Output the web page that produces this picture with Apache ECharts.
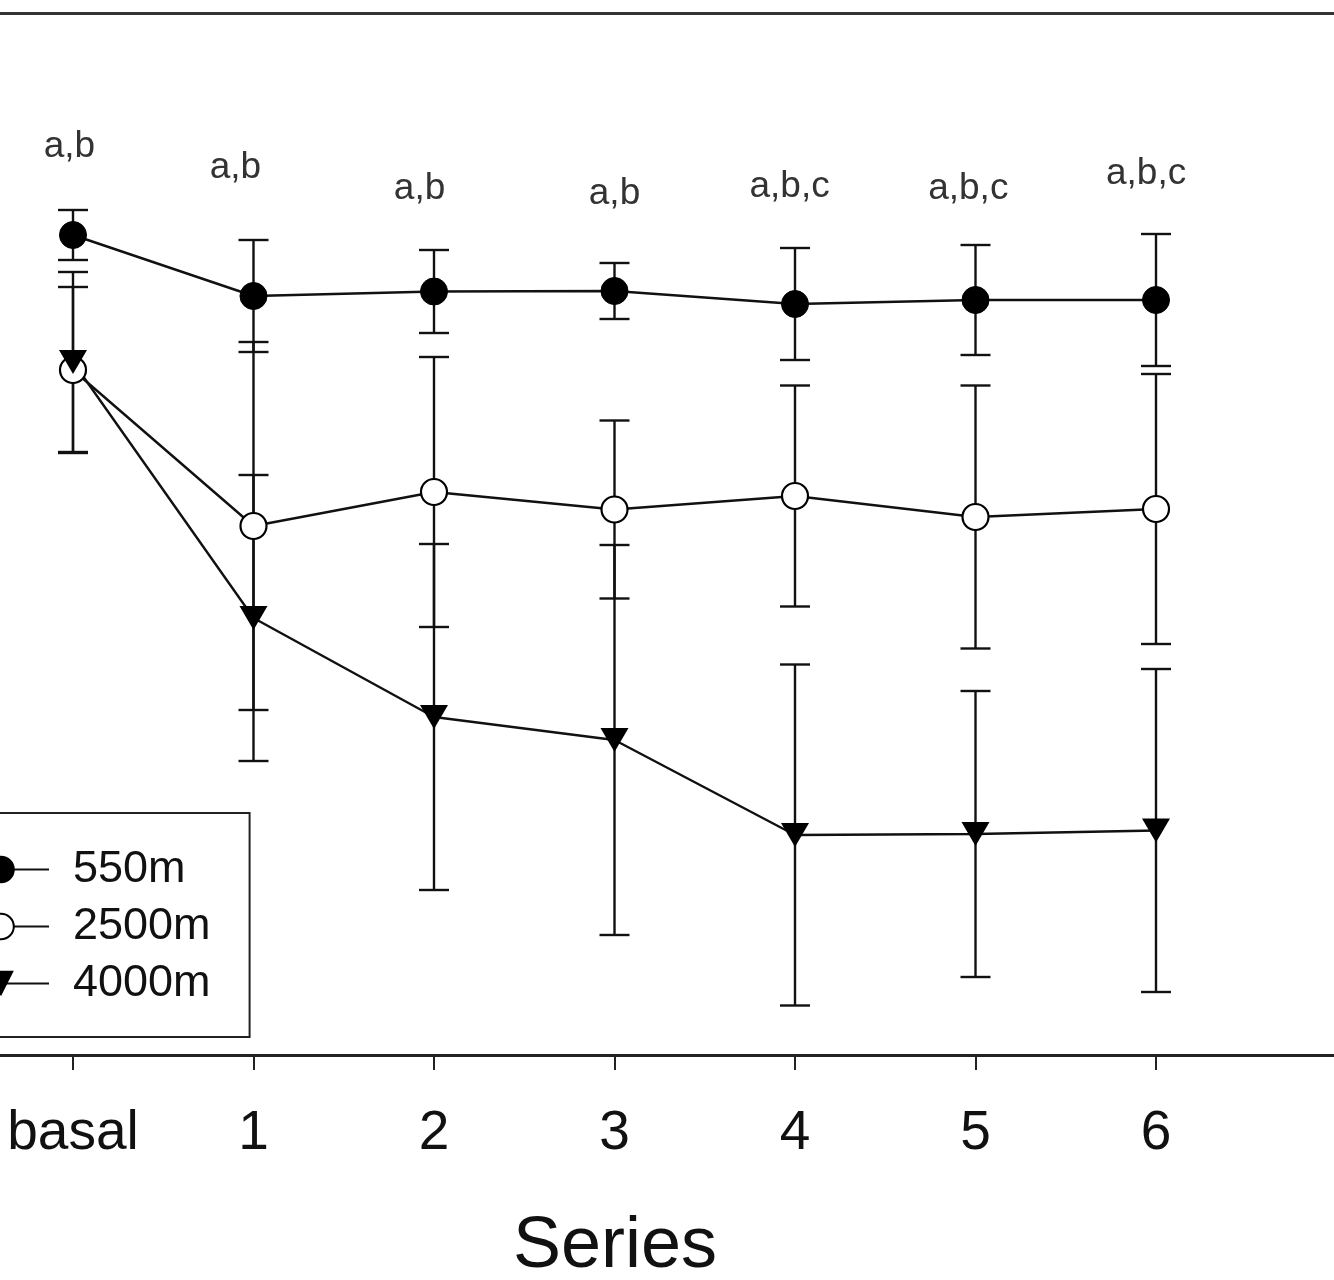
<!DOCTYPE html>
<html>
<head>
<meta charset="utf-8">
<title>Series by altitude</title>
<script src="https://cdn.jsdelivr.net/npm/echarts@6/dist/echarts.min.js"></script>
<style>
  html, body { margin: 0; padding: 0; background: #ffffff; }
  #chart { width: 1334px; height: 1280px; }
</style>
</head>
<body>
<div id="chart"></div>
<script>
// Measurement points along the x axis
const categories = ['basal', '1', '2', '3', '4', '5', '6'];
const altitudes = ['550m', '2500m', '4000m'];

// Group means and standard deviations (axis units)
const mean550  = [82.0, 75.9, 76.35, 76.4, 75.1, 75.5, 75.5];
const sd550    = [2.5, 5.6, 4.15, 2.8, 5.6, 5.5, 6.6];
const mean2500 = [68.5, 52.9, 56.3, 54.55, 55.9, 53.8, 54.6];
const sd2500   = [8.3, 18.4, 13.5, 8.9, 11.05, 13.15, 13.5];
const mean4000 = [69.3, 43.7, 33.8, 31.5, 22.0, 22.1, 22.45];
const sd4000   = [9.0, 14.3, 17.3, 19.5, 17.05, 14.3, 16.15];

// Significance letters and where each one sits (axis units)
const letters = ['a,b', 'a,b', 'a,b', 'a,b', 'a,b,c', 'a,b,c', 'a,b,c'];
const letterX = [-0.02, 0.90, 1.92, 3.0, 3.97, 4.96, 5.945];
const letterY = [90.8, 88.7, 86.6, 86.1, 86.8, 86.6, 88.1];

// Visible x window: the plot frame continues past both edges of the view
const X_MIN = -0.4044;
const X_MAX = 6.9861;
const tickValues = categories.map((c, i) => i);

const FONT = '"Liberation Sans", Arial, Helvetica, sans-serif';
const INK = '#111111';

function pairs(values) {
  return values.map((v, i) => [i, v]);
}

// Vertical error bar with caps at mean ± sd
function errorBars(id, means, sds) {
  return {
    type: 'custom',
    id: id,
    silent: true,
    z: 1,
    data: means.map((m, i) => [i, m - sds[i], m + sds[i]]),
    encode: { x: 0, y: [1, 2] },
    renderItem: function (params, api) {
      const x = api.value(0);
      const lo = api.coord([x, api.value(1)]);
      const hi = api.coord([x, api.value(2)]);
      const half = 15;
      const style = { stroke: INK, lineWidth: 2.4 };
      return {
        type: 'group',
        children: [
          { type: 'line', shape: { x1: lo[0], y1: lo[1], x2: hi[0], y2: hi[1] }, style: style },
          { type: 'line', shape: { x1: lo[0] - half, y1: lo[1], x2: lo[0] + half, y2: lo[1] }, style: style },
          { type: 'line', shape: { x1: hi[0] - half, y1: hi[1], x2: hi[0] + half, y2: hi[1] }, style: style }
        ]
      };
    }
  };
}

const chart = echarts.init(document.getElementById('chart'), null, { renderer: 'canvas' });

chart.setOption({
  animation: false,
  backgroundColor: '#ffffff',
  grid: {
    left: 0,
    right: 0,
    top: 13,
    bottom: 225,
    show: false,
    outerBoundsMode: 'none',
    containLabel: false
  },
  xAxis: [
    {
      type: 'value',
      min: X_MIN,
      max: X_MAX,
      position: 'bottom',
      name: 'Series',
      nameLocation: 'middle',
      nameGap: 156,
      nameTextStyle: {
        fontSize: 72, color: INK, fontFamily: FONT,
        // shift the title so it centres under the 0..6 span
        padding: [0, 104, 0, 0]
      },
      axisLine: { show: true, onZero: false, lineStyle: { color: '#222222', width: 3 } },
      axisTick: { show: true, length: 15, customValues: tickValues, lineStyle: { color: '#222222', width: 2 } },
      axisLabel: {
        margin: 51,
        fontSize: 55,
        color: INK,
        fontFamily: FONT,
        customValues: tickValues,
        formatter: function (v) {
          const i = Math.round(v);
          return (i >= 0 && i < categories.length) ? categories[i] : '';
        }
      },
      splitLine: { show: false }
    },
    {
      type: 'value',
      min: X_MIN,
      max: X_MAX,
      position: 'top',
      axisLine: { show: true, onZero: false, lineStyle: { color: '#333333', width: 3 } },
      axisTick: { show: false },
      axisLabel: { show: false },
      splitLine: { show: false }
    }
  ],
  yAxis: {
    type: 'value',
    min: 0,
    max: 104.2,
    show: false,
    splitLine: { show: false }
  },
  legend: {
    data: altitudes,
    orient: 'vertical',
    left: -68,
    top: 813,
    itemWidth: 96,
    itemHeight: 32,
    itemGap: 12,
    padding: [34, 39, 31, 20],
    borderColor: '#222222',
    borderWidth: 2,
    backgroundColor: '#ffffff',
    selectedMode: false,
    textStyle: { fontSize: 45, color: INK, fontFamily: FONT, padding: [0, 0, 0, 19] }
  },
  series: [
    errorBars('sd550', mean550, sd550),
    errorBars('sd2500', mean2500, sd2500),
    errorBars('sd4000', mean4000, sd4000),
    {
      type: 'line',
      name: '550m',
      data: pairs(mean550),
      symbol: 'circle',
      symbolSize: 27,
      z: 3,
      lineStyle: { color: INK, width: 2.4 },
      itemStyle: { color: '#000000', borderColor: '#000000', borderWidth: 1 }
    },
    {
      type: 'line',
      name: '2500m',
      data: pairs(mean2500),
      symbol: 'circle',
      symbolSize: 26,
      z: 3,
      lineStyle: { color: INK, width: 2.4 },
      itemStyle: { color: '#ffffff', borderColor: '#000000', borderWidth: 2.2 }
    },
    {
      type: 'line',
      name: '4000m',
      data: pairs(mean4000),
      symbol: 'path://M0,0L20,0L10,17Z',
      symbolSize: [28, 24],
      z: 3,
      lineStyle: { color: INK, width: 2.4 },
      itemStyle: { color: '#000000' }
    },
    {
      type: 'custom',
      id: 'letters',
      silent: true,
      z: 4,
      data: letters.map((t, i) => [letterX[i], letterY[i]]),
      encode: { x: 0, y: 1 },
      renderItem: function (params, api) {
        const p = api.coord([api.value(0), api.value(1)]);
        return {
          type: 'text',
          style: {
            text: letters[params.dataIndex],
            x: p[0],
            y: p[1],
            align: 'center',
            verticalAlign: 'middle',
            fontSize: 37,
            fontFamily: FONT,
            fill: '#333333'
          }
        };
      }
    }
  ]
});
</script>
</body>
</html>
